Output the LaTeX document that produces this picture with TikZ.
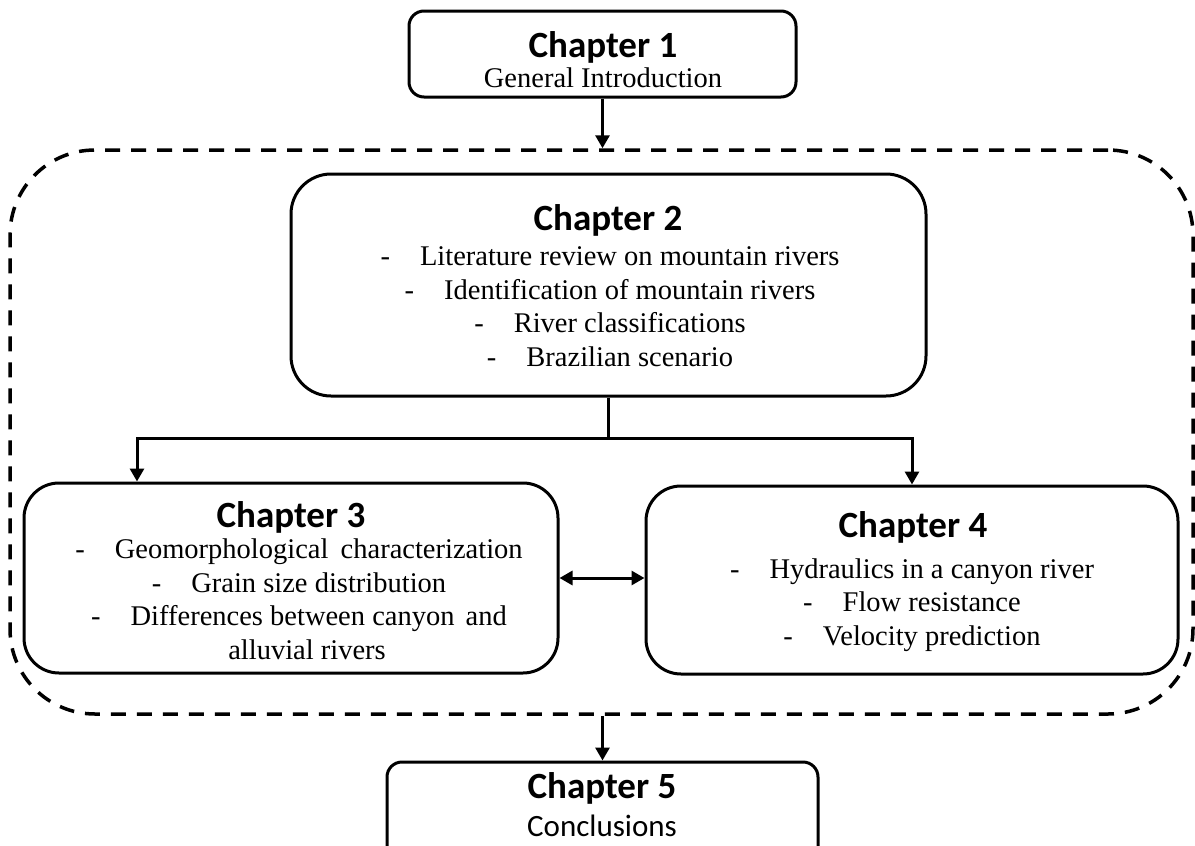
\documentclass[tikz,border=0pt]{standalone}
\usepackage{fontspec}
\setmainfont{Liberation Serif}
\newfontfamily\hdfont{Carlito}
\usetikzlibrary{arrows.meta}
\begin{document}
\begin{tikzpicture}[x=1pt,y=-1pt,
  box/.style={draw, line width=3pt, rounded corners=#1, inner sep=0pt},
  grpbox/.style={draw, line width=3.5pt, dash pattern=on 15pt off 11pt, rounded corners=85pt, inner sep=0pt},
  hd/.style={font=\hdfont\bfseries\fontsize{37}{40}\selectfont, anchor=base, inner sep=0pt},
  bd/.style={font=\fontsize{28.5}{33.5}\selectfont, align=center, anchor=base, inner sep=0pt},
  arr/.style={line width=3pt, -{Triangle[length=13pt,width=14pt]}},
  arrtwo/.style={line width=3pt, {Triangle[length=13pt,width=14pt]}-{Triangle[length=13pt,width=14pt]}},
  conn/.style={line width=3pt}
]
\useasboundingbox (0,0) rectangle (1195,846);
\node[grpbox, minimum width=1183pt, minimum height=564pt] (grp) at (601.5,432) {};
\node[box=15pt, minimum width=387pt, minimum height=86pt] (c1) at (602.5,54) {};
\node[box=40pt, minimum width=635pt, minimum height=222pt] (c2) at (608.5,285) {};
\node[box=35pt, minimum width=534pt, minimum height=190pt] (c3) at (291,578) {};
\node[box=35pt, minimum width=532pt, minimum height=188pt] (c4) at (912,580) {};
\node[box=15pt, minimum width=431pt, minimum height=100pt] (c5) at (602.5,812) {};

\node[hd] (h1) at (603,57) {Chapter 1};
\node[bd] (t1) at (603,87) {General Introduction};

\node[hd] (h2) at (608,230) {Chapter 2};
\node[bd] (t2) at (610,366) {-\hspace{30pt}Literature review on mountain rivers\\
-\hspace{30pt}Identification of mountain rivers\\
-\hspace{30pt}River classifications\\
-\hspace{30pt}Brazilian scenario};

\node[hd] (h3) at (291,527) {Chapter 3};
\node[bd] (t3) at (299,659) {-\hspace{30pt}Geomorphological\hspace{5pt} characterization\\
-\hspace{30pt}Grain size distribution\\
-\hspace{30pt}Differences between canyon\hspace{4pt} and\\
\hspace*{16pt}alluvial rivers};

\node[hd] (h4) at (913,537) {Chapter 4};
\node[bd] (t4) at (912,645) {-\hspace{30pt}Hydraulics in a canyon river\\
-\hspace{30pt}Flow resistance\\
-\hspace{30pt}Velocity prediction};

\node[hd] (h5) at (602,798) {Chapter 5};
\node[font=\hdfont\fontsize{31}{34}\selectfont, anchor=base, inner sep=0pt] (t5) at (602,836) {Conclusions};

\draw[arr] (c1.south) -- (c1.south |- grp.north);
\coordinate (jn) at (608.5,438);
\draw[conn] (c2.south) -- (jn);
\draw[arr] (jn) -| ([xshift=-154pt]c3.north);
\draw[arr] (jn) -| (c4.north);
\draw[arrtwo] (c3.east) -- (c3.east -| c4.west);
\draw[arr] (grp.south -| c5.north) -- (c5.north);
\end{tikzpicture}
\end{document}
